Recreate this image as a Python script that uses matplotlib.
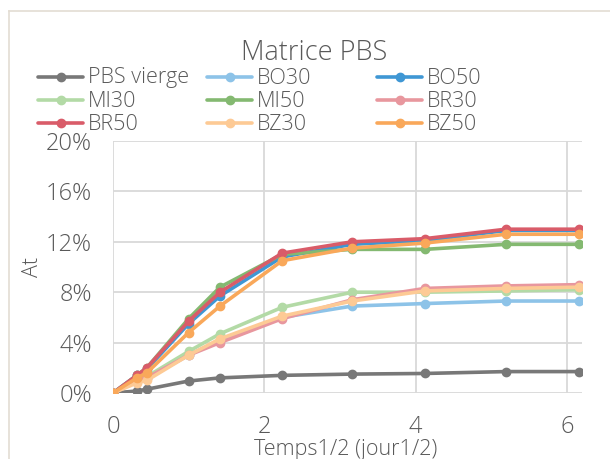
import numpy as np
import matplotlib.pyplot as plt
from matplotlib.lines import Line2D
from matplotlib.ticker import FuncFormatter

plt.rcParams['font.family'] = ['Open Sans', 'DejaVu Sans']
plt.rcParams['font.weight'] = 'light'

# temps^(1/2) en jour^(1/2)
t = [0, 0.316, 0.447, 1.0, 1.414, 2.236, 3.162, 4.123, 5.196, 6.164]

# At en %
pbs = [0, 0.16, 0.3, 0.95, 1.2, 1.4, 1.5, 1.55, 1.7, 1.7]
bo30 = [0, 1.0, 1.2, 3.0, 4.2, 6.0, 6.9, 7.1, 7.3, 7.3]
bo50 = [0, 1.4, 1.9, 5.5, 7.7, 10.8, 11.8, 12.1, 12.9, 12.9]
mi30 = [0, 1.0, 1.3, 3.3, 4.7, 6.8, 8.0, 8.0, 8.1, 8.2]
mi50 = [0, 1.4, 2.0, 5.9, 8.4, 11.0, 11.4, 11.4, 11.8, 11.8]
br30 = [0, 1.0, 1.2, 3.0, 4.0, 5.9, 7.4, 8.3, 8.5, 8.6]
br50 = [0, 1.4, 2.0, 5.7, 8.0, 11.1, 12.0, 12.25, 13.0, 13.0]
bz30 = [0, 0.8, 1.0, 3.0, 4.3, 6.1, 7.3, 8.1, 8.3, 8.4]
bz50 = [0, 1.2, 1.6, 4.8, 6.9, 10.5, 11.5, 11.9, 12.6, 12.6]

series = [
    ('PBS vierge', pbs, '#787878'),
    ('BO30', bo30, '#8dc3e8'),
    ('BO50', bo50, '#3f97d4'),
    ('MI30', mi30, '#b3daa6'),
    ('MI50', mi50, '#84b971'),
    ('BR30', br30, '#e8979e'),
    ('BR50', br50, '#d95c69'),
    ('BZ30', bz30, '#fdca95'),
    ('BZ50', bz50, '#f9a85a'),
]

W, H = 610, 459
gris = '#595959'
fig = plt.figure(figsize=(W/100, H/100), dpi=100)
ax = fig.add_axes([113/W, 1-393/H, 469/W, 252/H])


def fx(px):
    return px / W


def fy(py):
    return 1 - py / H


for nom, y, c in series:
    ax.plot(t, y, color=c, lw=2.6, marker='o', ms=6, label=nom,
            solid_capstyle='round', zorder=3)

ax.set_xlim(0, 6.2)
ax.set_ylim(0, 20)
ax.set_xticks([0, 2, 4, 6])
ax.set_yticks(np.arange(0, 21, 4))
ax.yaxis.set_major_formatter(FuncFormatter(lambda v, p: f'{v:.0f}%'))
ax.grid(True, color='#d9d9d9', lw=1.3)
ax.set_axisbelow(True)
for s in ax.spines.values():
    s.set_visible(False)
ax.tick_params(length=0, labelsize=17, colors=gris)
ax.tick_params(axis='y', pad=15)
ax.tick_params(axis='x', pad=16)

# titres
fig.text(fx(314), fy(60), 'Matrice PBS', ha='center', va='baseline',
         fontsize=19.5, color=gris)
fig.text(fx(346), fy(455), 'Temps1/2 (jour1/2)', ha='center', va='baseline',
         fontsize=15.5, color=gris)
fig.text(fx(32), fy(267), 'At', ha='center', va='center', rotation=90,
         fontsize=15.5, color=gris)

# légende en trois colonnes, remplie ligne par ligne
cols_x = [38, 207, 377]
rows_y = [77, 100, 123]
for i, (nom, y, c) in enumerate(series):
    x0 = cols_x[i % 3]
    y0 = rows_y[i // 3]
    fig.add_artist(Line2D([fx(x0), fx(x0 + 45)], [fy(y0), fy(y0)], color=c,
                          lw=2.6, solid_capstyle='round'))
    fig.add_artist(Line2D([fx(x0 + 22.5)], [fy(y0)], color=c, marker='o', ms=6))
    fig.text(fx(x0 + 50), fy(y0 + 6.5), nom, ha='left', va='baseline',
             fontsize=15.5, color=gris)

# cadre du graphique
fig.add_artist(Line2D([fx(9), fx(9)], [0, fy(11)], color='#e3ddd3', lw=1.2))
fig.add_artist(Line2D([fx(9), 1], [fy(11), fy(11)], color='#e3ddd3', lw=1.2))

fig.savefig('out.png', dpi=100)
